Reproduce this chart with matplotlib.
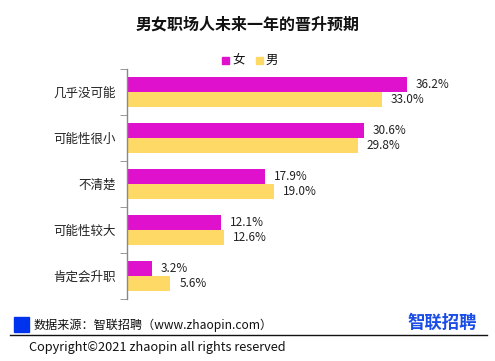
import matplotlib
matplotlib.use("Agg")
import matplotlib.pyplot as plt
import numpy as np
from matplotlib.patches import Rectangle
from matplotlib.lines import Line2D

plt.rcParams['font.family'] = ['Noto Sans CJK SC', 'DejaVu Sans']

categories = ["几乎没可能", "可能性很小", "不清楚", "可能性较大", "肯定会升职"]
female = [36.2, 30.6, 17.9, 12.1, 3.2]
male = [33.0, 29.8, 19.0, 12.6, 5.6]
series_names = ["女", "男"]
title = "男女职场人未来一年的晋升预期"
source_text = "数据来源：智联招聘（www.zhaopin.com）"
logo_text = "智联招聘"
copyright_text = "Copyright©2021 zhaopin all rights reserved"

c_f = "#DF11CC"
c_m = "#FFD966"

W, H = 495, 361
fig = plt.figure(figsize=(W / 100, H / 100), dpi=100)

ax = fig.add_axes([127 / W, 1 - 299 / H, (470 - 127) / W, 230 / H])
n = len(categories)
y = np.arange(n)
bh = 0.335
ax.barh(y - bh / 2, female, height=bh, color=c_f)
ax.barh(y + bh / 2, male, height=bh, color=c_m)
ax.set_ylim(n - 0.5, -0.5)
ax.set_xlim(0, 280 / 7.735 * 343 / 280)

for i in range(n):
    ax.text(female[i] + 1.15, y[i] - bh / 2, f"{female[i]:.1f}%", va="center", ha="left",
            fontsize=8.5, color="#222222")
    ax.text(male[i] + 1.15, y[i] + bh / 2, f"{male[i]:.1f}%", va="center", ha="left",
            fontsize=8.5, color="#222222")

for s in ["top", "right", "bottom"]:
    ax.spines[s].set_visible(False)
ax.spines["left"].set_color("#888888")
ax.spines["left"].set_linewidth(1.0)
ax.set_xticks([])
ax.set_yticks(np.arange(n + 1) - 0.5, minor=True)
ax.set_yticks(y)
ax.set_yticklabels(categories, fontsize=9, color="#222222")
ax.tick_params(axis="y", which="major", length=0, pad=8)
ax.tick_params(axis="y", which="minor", length=5, color="#888888", direction="out")

fig.text(248 / W, 1 - 25 / H, title, ha="center", va="center", fontsize=11.5,
         fontweight="bold", color="#111111")

# legend
for (x0, col, name) in [(222, c_f, series_names[0]), (256, c_m, series_names[1])]:
    fig.patches.append(Rectangle((x0 / W, 1 - 64 / H), 6.5 / W, 7 / H, transform=fig.transFigure,
                                 color=col))
    fig.text((x0 + 10) / W, 1 - 60 / H, name, ha="left", va="center", fontsize=9, color="#111111")

# footer
fig.patches.append(Rectangle((14 / W, 1 - 332 / H), 15 / W, 15 / H, transform=fig.transFigure,
                             color="#0033EE"))
fig.text(34 / W, 1 - 325 / H, source_text, ha="left", va="center", fontsize=8.7, color="#111111")
fig.text(477 / W, 1 - 322.5 / H, logo_text, ha="right", va="center", fontsize=12.5,
         fontweight="bold", color="#1A4CE6")
fig.lines.append(Line2D([10 / W, 487 / W], [1 - 334.5 / H, 1 - 334.5 / H], transform=fig.transFigure,
                        color="#111111", linewidth=1.0))
fig.text(29 / W, 1 - 348 / H, copyright_text, ha="left", va="center", fontsize=9.2, color="#111111")

fig.savefig("out.png", dpi=100)
